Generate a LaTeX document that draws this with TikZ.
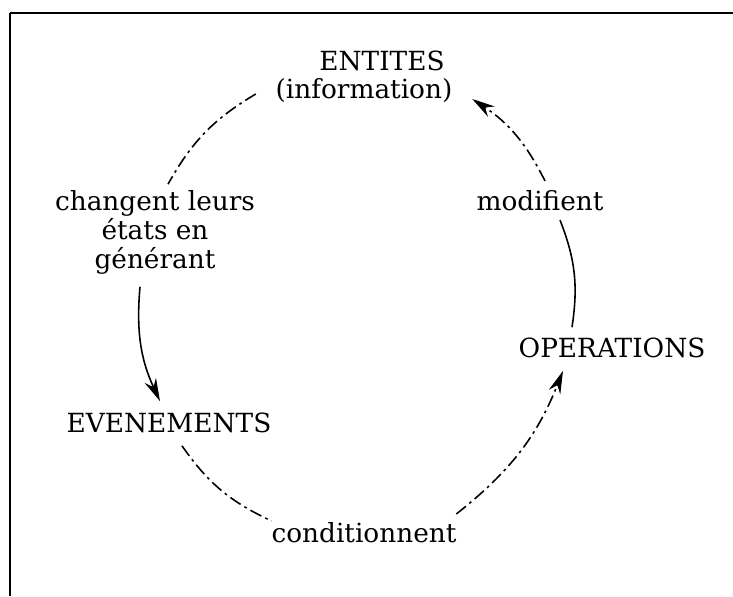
\documentclass[tikz,border=0pt]{standalone}
\usepackage{fontspec}
\setmainfont{DejaVu Serif}
\usetikzlibrary{arrows.meta,calc}

\begin{document}
\begin{tikzpicture}[
			x = 0.02cm, y = -0.02cm,
			every node/.style = {font=\fontsize{15}{16.5}\selectfont, inner sep=2pt},
			lien/.style = {line width=0.9pt, bend right=15},
			tirets/.style = {lien, dash pattern=on 7pt off 2.5pt on 1.5pt off 2.5pt},
			fleche/.style = {-{Stealth[length=13pt,width=7pt]}}
		]

		\useasboundingbox (0,0) rectangle (733,596);
		\draw[line width=1.1pt] (10,596) -- (10,13);
		\draw[line width=1.6pt] (10,13) -- (733,13);

		\node (ent) at (382,61) {ENTITES};
		\node (info) at (364,91) {(information)};
		\node[align=center] (chg) at (155,232) {changent leurs\\états en\\générant};
		\node (evt) at (169,423) {EVENEMENTS};
		\node (cond) at (364,533) {conditionnent};
		\node (ops) at (612,348) {OPERATIONS};
		\node (mod) at (540,201) {modifient};

		% le cycle
		\draw[tirets] ($(info.west)+(-16,3)$) to ($(chg.north)+(13,-2)$);
		\draw[lien,fleche] ($(chg.south)+(-15,9)$) to ($(evt.north)+(-9,-8)$);
		\draw[tirets] ($(evt.south)+(13,9)$) to ($(cond.west)+(4,-12)$);
		\draw[tirets,fleche] ($(cond.east)+(-4,-19)$) to ($(ops.south)+(-49,9)$);
		\draw[lien] ($(ops.north)+(-40,-7)$) to ($(mod.south)+(20,5)$);
		\draw[tirets,fleche] ($(mod.north)+(5,-6)$) to ($(info.east)+(16,8)$);

		\end{tikzpicture}
\end{document}
